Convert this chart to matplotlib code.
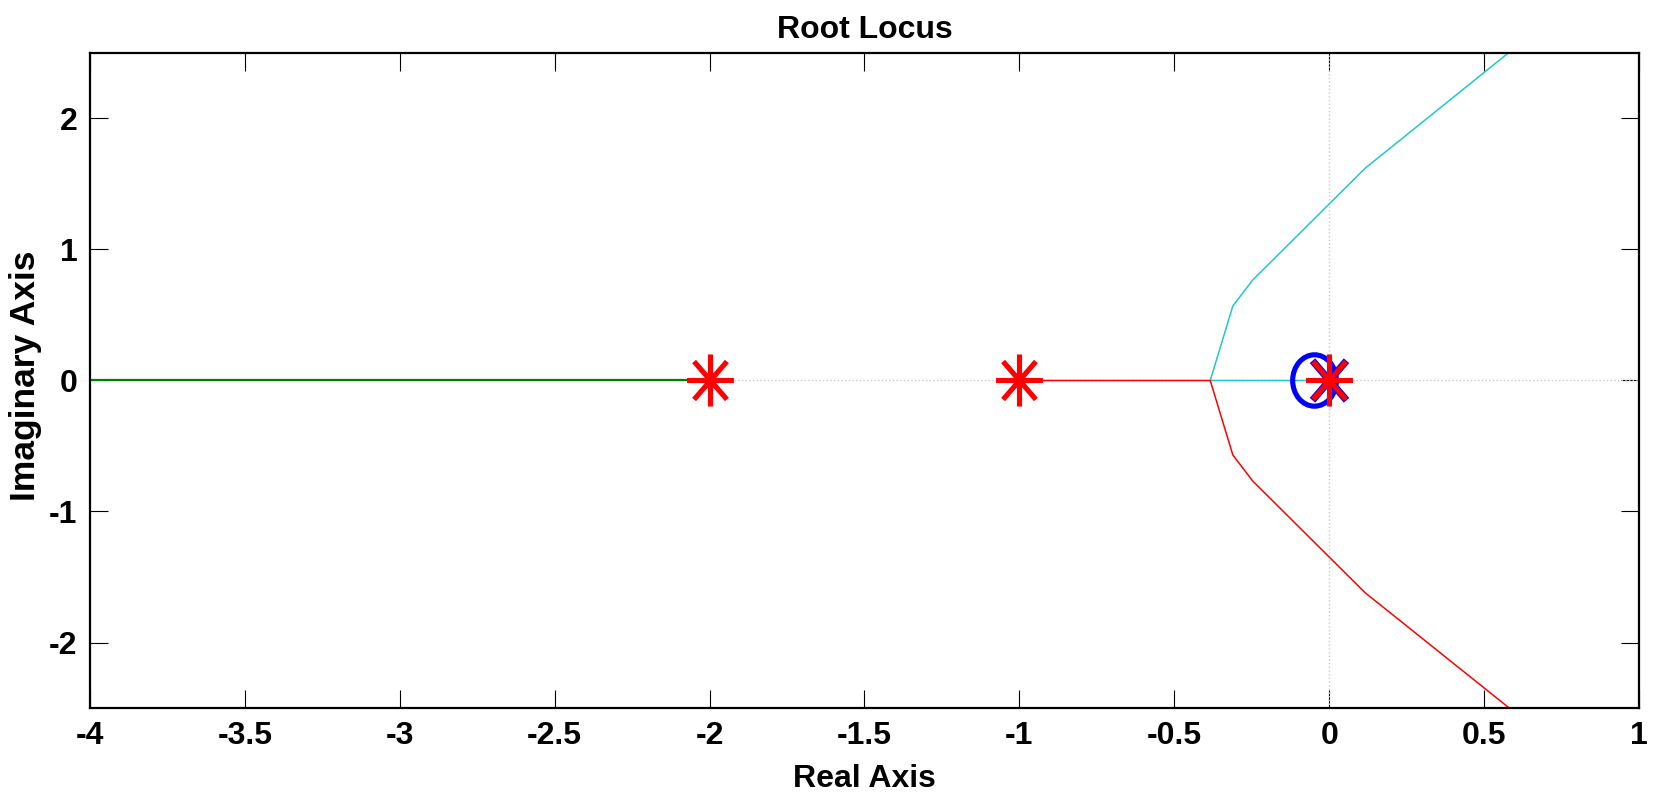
import numpy as np
import matplotlib
matplotlib.use("Agg")
import matplotlib.pyplot as plt
from matplotlib.path import Path
from matplotlib.transforms import Affine2D

plt.rcParams['font.family'] = ['Liberation Sans', 'DejaVu Sans']
plt.rcParams['font.weight'] = 'bold'

# Open-loop poles and zero
poles_re = [-2.0, -1.0, 0.0]
poles_im = [0.0, 0.0, 0.0]
zero_re = [-0.05]
zero_im = [0.0]

# Root locus branches (real, imaginary)
branch_far_re = [-5.0, -2.0]
branch_far_im = [0.0, 0.0]

branch_up_re = [0.0, -0.384, -0.311, -0.247, 0.116, 0.578]
branch_up_im = [0.0, 0.0, 0.569, 0.767, 1.62, 2.5]

branch_down_re = [-1.0, -0.384, -0.311, -0.247, 0.116, 0.581]
branch_down_im = [0.0, 0.0, -0.569, -0.767, -1.62, -2.5]

xticks = [-4, -3.5, -3, -2.5, -2, -1.5, -1, -0.5, 0, 0.5, 1]
xtick_labels = ['-4', '-3.5', '-3', '-2.5', '-2', '-1.5', '-1', '-0.5', '0', '0.5', '1']
yticks = [-2, -1, 0, 1, 2]
ytick_labels = ['-2', '-1', '0', '1', '2']

# Asterisk marker: horizontal, vertical and two diagonal strokes
ast_verts = [(-0.9, 0), (0.9, 0), (0, -1), (0, 1),
             (-0.63, -0.73), (0.63, 0.73), (-0.63, 0.73), (0.63, -0.73)]
ast_codes = [Path.MOVETO, Path.LINETO] * 4
asterisk = Path(ast_verts, ast_codes)

# Slightly tall oval used for the zero
oval = Path.unit_circle().transformed(Affine2D().scale(0.85, 1.0))

# Diagonal cross for the underlying pole mark
cross = Path([(-0.86, -1), (0.86, 1), (-0.86, 1), (0.86, -1)],
             [Path.MOVETO, Path.LINETO, Path.MOVETO, Path.LINETO])

fig = plt.figure(figsize=(16.56, 7.96), dpi=100)
ax = fig.add_axes([90 / 1656, 1 - 708 / 796, (1639 - 90) / 1656, (708 - 53) / 796])
ax.set_axisbelow(True)

# s-plane axes
ax.axhline(0, color='#c8c8c8', lw=1.0, ls=':', zorder=1)
ax.axvline(0, color='#c8c8c8', lw=1.0, ls=':', zorder=1)

ax.plot(branch_far_re, branch_far_im, color='#008000', lw=1.6, zorder=2)
ax.plot(branch_up_re, branch_up_im, color='#20c8c8', lw=1.1, zorder=2)
ax.plot(branch_down_re, branch_down_im, color='#ff0000', lw=1.1, zorder=2)

# zero
ax.plot(zero_re, zero_im, ls='none', marker=oval, ms=37, mfc='none',
        mec='#0000ff', mew=3.7, zorder=3)
# pole markers
ax.plot([0.0], [0.0], ls='none', marker=cross, ms=28.5, mec='#0000ff', mew=5.2, zorder=3)
ax.plot(poles_re, poles_im, ls='none', marker=asterisk, ms=37.5, mec='#ff0000',
        mew=3.7, zorder=4)

ax.set_xlim(-4, 1)
ax.set_ylim(-2.5, 2.5)
ax.set_xticks(xticks)
ax.set_xticklabels(xtick_labels)
ax.set_yticks(yticks)
ax.set_yticklabels(ytick_labels)

ax.tick_params(direction='in', length=13, width=0.8, top=True, right=True,
               labelsize=23, pad=9)
for s in ax.spines.values():
    s.set_linewidth(1.6)

ax.set_title('Root Locus', fontsize=23, fontweight='bold', pad=11)
ax.set_xlabel('Real Axis', fontsize=23, fontweight='bold')
ax.set_ylabel('Imaginary Axis', fontsize=25.5, fontweight='bold')
ax.xaxis.set_label_coords(0.5, -0.085)
ax.yaxis.set_label_coords(-0.031, 0.508)

fig.savefig('out.png', dpi=100)
